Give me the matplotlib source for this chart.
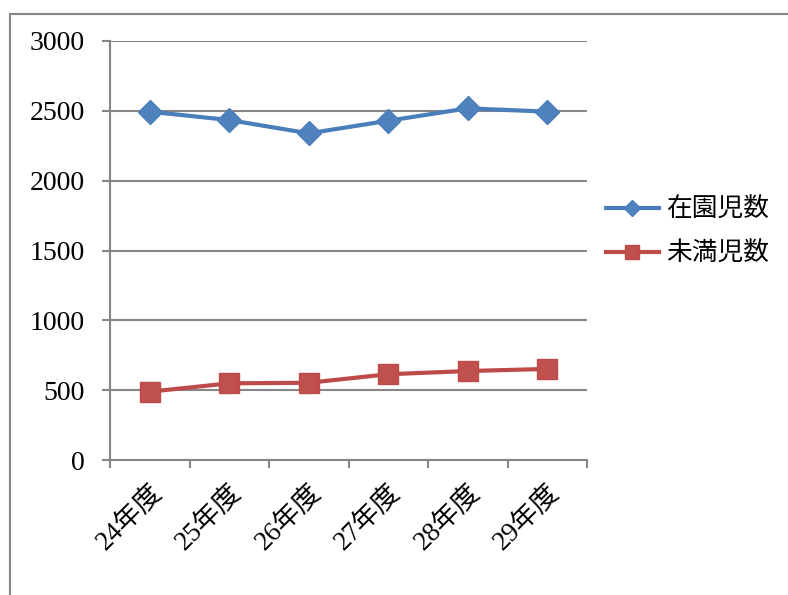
import matplotlib
matplotlib.use("Agg")
import matplotlib.pyplot as plt
from matplotlib.lines import Line2D

years = ["24年度", "25年度", "26年度", "27年度", "28年度", "29年度"]
zaien = [2494, 2434, 2339, 2429, 2518, 2494]   # 在園児数
miman = [489, 549, 553, 614, 637, 652]         # 未満児数
yticks = [0, 500, 1000, 1500, 2000, 2500, 3000]

serif = ["Liberation Serif", "Noto Sans CJK JP"]
gothic = ["Noto Sans CJK JP", "DejaVu Sans"]
grey = "#868686"

fig = plt.figure(figsize=(7.88, 5.95), dpi=100)
ax = fig.add_axes([110 / 788, 1 - 460 / 595, 477 / 788, 419 / 595])

x = list(range(len(years)))
ax.plot(x, zaien, color="#4A7EBB", lw=3, marker="D", ms=12,
        mfc="#4F81BD", mec="#4A7EBB", label="在園児数", zorder=3)
ax.plot(x, miman, color="#BE4B48", lw=3, marker="s", ms=14,
        mfc="#C0504D", mec="#BE4B48", label="未満児数", zorder=3)

ax.set_xlim(-0.5, len(years) - 0.5)
ax.set_ylim(0, 3000)
ax.set_yticks(yticks)
ax.set_yticklabels([str(v) for v in yticks], fontfamily=serif, fontsize=20)
ax.grid(axis="y", color=grey, lw=1.5)
ax.set_axisbelow(True)

# ticks on category boundaries, labels at centres
ax.set_xticks([i - 0.5 for i in range(len(years) + 1)])
ax.set_xticklabels([])
ax.set_xticks(x, minor=True)
ax.set_xticklabels(years, minor=True, rotation=45, ha="right", va="top",
                   rotation_mode="anchor", fontfamily=serif, fontsize=19.5)
ax.tick_params(axis="x", which="minor", length=0, pad=14)
ax.tick_params(axis="x", which="major", length=6, width=1.5, color=grey)
ax.tick_params(axis="y", length=6, width=1.5, color=grey, pad=12)

for s in ["top", "right"]:
    ax.spines[s].set_visible(False)
for s in ["left", "bottom"]:
    ax.spines[s].set_color(grey)
    ax.spines[s].set_linewidth(1.5)

leg = ax.legend(loc="center left", bbox_to_anchor=(606 / 788, 1 - 232 / 595),
                bbox_transform=fig.transFigure, frameon=False,
                prop={"family": gothic, "size": 18.5}, handlelength=2.05,
                handletextpad=0.3, labelspacing=0.68, markerscale=0.7,
                borderpad=0, borderaxespad=0)

# outer chart border (top and left edges visible)
fig.add_artist(Line2D([10 / 788, 1], [1 - 14 / 595] * 2, color=grey, lw=1.5))
fig.add_artist(Line2D([10 / 788] * 2, [0, 1 - 14 / 595], color=grey, lw=1.5))

fig.savefig("out.png", dpi=100)
